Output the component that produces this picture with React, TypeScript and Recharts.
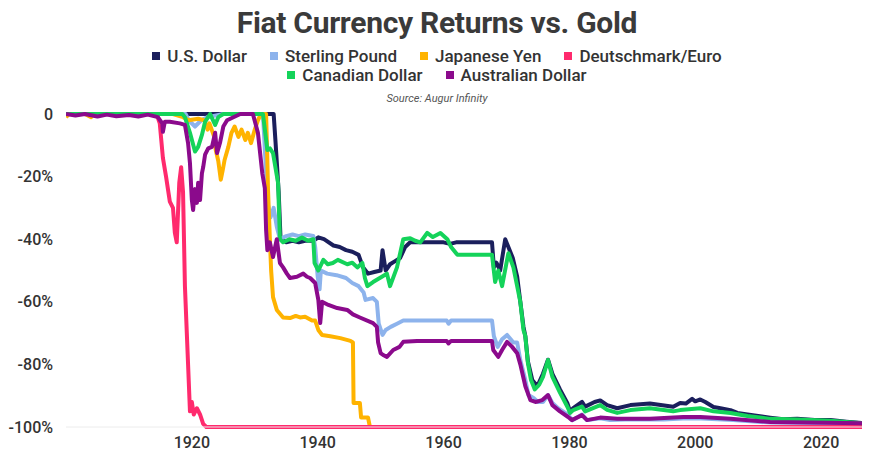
import { LineChart, Line, XAxis, YAxis } from "recharts";

type Pt = [number, number];

// [year, % change vs gold]
const usDollar: Pt[] = [
  [1900, 0], [1933.0, 0], [1933.3, -9], [1933.8, -25], [1934.1, -40], [1935, -41], [1936, -40.5],
  [1937, -41], [1938, -40.5], [1939.3, -40.5], [1940.1, -39.4], [1941, -40], [1942.5, -42],
  [1943.5, -42.5], [1944.5, -43.5], [1945.5, -44], [1946.5, -45], [1947.2, -49], [1948, -51],
  [1949, -50.5], [1950, -50], [1950.3, -43.5], [1950.8, -50], [1951.5, -48], [1952.3, -47],
  [1953.1, -46], [1953.9, -42.5], [1954.7, -41], [1960, -41], [1961, -41.5], [1962, -41],
  [1967.7, -41], [1968.0, -49], [1968.4, -47.5], [1969.0, -50], [1969.8, -40], [1970.3, -42.5],
  [1971.0, -46], [1971.7, -52], [1972.2, -60], [1972.7, -68], [1973.0, -71], [1973.4, -79],
  [1974.1, -85], [1974.9, -87], [1975.8, -83], [1976.6, -78.5], [1977.3, -83], [1978.5, -88],
  [1979.7, -92.5], [1980.1, -95], [1980.6, -94], [1982, -92], [1982.5, -93.5], [1984, -92],
  [1984.9, -91.5], [1986, -93], [1987.6, -94], [1989.7, -93], [1992.8, -92.5], [1996.5, -93.5],
  [1997.6, -92.3], [1998.5, -92.5], [1999.5, -91], [2000, -91.8], [2000.8, -91.2], [2001.6, -92],
  [2002.9, -93.6], [2004, -94], [2005.6, -94.6], [2006.7, -95.5], [2008.3, -96], [2010, -96.5],
  [2011.9, -97], [2014, -97.5], [2016.2, -97.4], [2019, -97.8], [2021.5, -97.8], [2024, -98.3],
  [2026.5, -98.7],
];

const sterlingPound: Pt[] = [
  [1900, 0], [1919, 0], [1919.5, -2], [1920.5, -4], [1921.5, -2], [1922.5, -1], [1925, 0],
  [1931.3, 0], [1931.7, -15], [1932, -28], [1932.5, -33], [1933, -30], [1933.5, -36], [1934, -40],
  [1935, -39], [1936, -38.5], [1937, -39], [1938, -38.5], [1939.3, -39], [1939.6, -42.5],
  [1940.0, -52], [1940.3, -56], [1940.5, -50], [1941.5, -51], [1943, -51.5], [1944.5, -52.4],
  [1945.5, -54], [1946.5, -55], [1947.3, -57], [1947.6, -59.4], [1948.8, -58.8], [1949.4, -60],
  [1949.7, -67], [1950.3, -70.6], [1950.8, -69], [1951.6, -68], [1952.6, -67], [1953.6, -66],
  [1956, -66], [1960.5, -66], [1960.8, -67], [1961.2, -66], [1967.7, -66], [1968.0, -71],
  [1968.6, -74.4], [1969.3, -72], [1970.1, -70.6], [1971.1, -73], [1971.7, -73], [1972.2, -78.6],
  [1973.0, -85], [1973.5, -89.8], [1974.3, -90.7], [1975.0, -92], [1975.8, -92], [1976.6, -89.8],
  [1977.3, -92.3], [1978.2, -94], [1979.7, -96], [1980.5, -97.8], [1981.2, -97], [1982, -96],
  [1982.8, -97.8], [1984.9, -97.2], [1986.5, -97.8], [1990, -97.5], [1995, -97.6], [1998, -97.3],
  [2001, -97.3], [2006, -97.8], [2012, -98.6], [2026.5, -98.9],
];

const japaneseYen: Pt[] = [
  [1900, -1], [1900.5, 0], [1903, 0], [1904, -1], [1904.5, 0], [1917, 0], [1918.6, -1],
  [1919.5, -2], [1921, -1.5], [1922, -2], [1922.5, -5], [1922.8, -3], [1923.5, -7],
  [1923.8, -11.5], [1924.2, -15], [1924.6, -21], [1924.9, -18], [1925.2, -14.7], [1925.8, -10.5],
  [1926.3, -6], [1926.8, -4], [1927.4, -7.3], [1927.9, -5], [1928.5, -8.3], [1928.9, -6],
  [1929.4, -9.3], [1930, -5], [1930.5, -2], [1931, 0], [1931.8, 0], [1932.0, -14.7],
  [1932.1, -24], [1932.4, -40], [1932.6, -50], [1932.9, -58.5], [1933.5, -62.6], [1934.5, -65],
  [1935.6, -65.2], [1936.5, -64.5], [1937.2, -65], [1938, -64.8], [1939.1, -66], [1939.6, -66],
  [1940.1, -69], [1940.7, -70.6], [1942, -71], [1943.6, -71.6], [1945.2, -72.5], [1945.6, -73],
  [1945.7, -92.3], [1946.7, -92.3], [1946.9, -97], [1948.0, -97], [1948.3, -100], [2026.5, -100],
];

const deutschmarkEuro: Pt[] = [
  [1900, 0], [1914.4, 0], [1914.9, -3], [1915.4, -14], [1915.9, -20], [1916.2, -24],
  [1916.5, -28], [1917.0, -30], [1917.3, -38], [1917.6, -41], [1918.0, -22], [1918.3, -17],
  [1918.6, -25], [1918.9, -55], [1919.4, -80], [1919.7, -95], [1920.0, -92], [1920.3, -96],
  [1920.8, -94], [1921.3, -96], [1921.8, -99], [1922.3, -100], [2026.5, -100],
];

const canadianDollar: Pt[] = [
  [1900, 0], [1918.5, 0], [1918.9, -1], [1919.7, -6], [1920.5, -12], [1921.0, -10.5],
  [1921.6, -6.7], [1922.1, -2.5], [1922.9, 0], [1923.7, -3.5], [1924.2, -1], [1925, 0],
  [1931.3, 0], [1932, -11.5], [1932.4, -11], [1932.9, -12.5], [1933.7, -22], [1934, -40],
  [1934.5, -41], [1935.5, -40], [1936.5, -40.5], [1937.5, -39.5], [1938.5, -40.5], [1939.3, -40],
  [1939.5, -47.6], [1940.1, -50], [1940.9, -46.6], [1941.6, -48], [1942.4, -47.6], [1943.2, -46.6],
  [1944.7, -48], [1945.5, -47.5], [1946.3, -49], [1947.1, -47.6], [1947.5, -52.4], [1947.9, -55],
  [1948.8, -53.7], [1950.2, -52], [1951, -51], [1951.5, -55], [1952.6, -49], [1953.6, -40],
  [1954.7, -39.7], [1955.5, -40.5], [1956.3, -41], [1957.4, -38], [1958.3, -39.3], [1959.5, -38],
  [1960.6, -40], [1961.2, -42.5], [1962.2, -45], [1967.7, -45], [1968.2, -53.7], [1968.7, -50],
  [1969.3, -55], [1970.3, -44.5], [1971.1, -49], [1972.2, -60], [1972.7, -69], [1973.0, -71],
  [1973.4, -79.5], [1973.9, -85], [1974.5, -88], [1975.2, -86.5], [1975.8, -84], [1976.6, -78.6],
  [1977.3, -84], [1978.5, -89], [1979.7, -93.6], [1980.1, -95.5], [1980.6, -94.6], [1982, -93.5],
  [1982.5, -95], [1984.9, -93], [1986, -94.5], [1987.6, -95.5], [1989.7, -94.6], [1992.8, -94],
  [1996.5, -95], [1997.6, -94.6], [2000.8, -94], [2002.9, -95], [2005.6, -95.5], [2008.3, -96.5],
  [2011.9, -97.4], [2016.2, -97.6], [2021.5, -98], [2026.5, -98.8],
];

const australianDollar: Pt[] = [
  [1900, 0], [1901.5, -0.5], [1903, 0], [1905, -0.8], [1906.5, -0.2], [1908, -0.7], [1910, -0.3],
  [1911.5, -0.8], [1913, -0.2], [1914.6, -1], [1915.3, -3], [1915.4, -5.7], [1915.7, -2.5],
  [1916.5, -2.5], [1918.1, -3], [1918.9, -3.5], [1919.4, -9.3], [1919.7, -15.7], [1920.0, -27.5],
  [1920.2, -30.7], [1920.5, -24], [1920.8, -28.4], [1921.0, -22], [1921.3, -27.5], [1921.6, -19],
  [1921.8, -17], [1922.1, -13], [1922.6, -11], [1923.2, -10.5], [1923.7, -6], [1924.0, -12.5],
  [1924.5, -9], [1925.0, -4], [1925.6, -2], [1927.7, 0], [1929.7, 0], [1930.5, -6], [1931.2, -19],
  [1931.6, -23.7], [1931.8, -37], [1932.0, -43.5], [1932.4, -41], [1932.9, -45.7], [1933.5, -40],
  [1934.0, -47.6], [1934.5, -49], [1935.1, -51], [1935.6, -52.4], [1936.7, -52], [1937.7, -51],
  [1938.3, -52], [1938.8, -52.4], [1939.6, -54], [1940.1, -59.4], [1940.4, -66.8], [1940.7, -60],
  [1941.7, -61], [1943.1, -62], [1944.7, -62.6], [1945.6, -64], [1946.7, -65], [1948.8, -66.8],
  [1949.4, -68], [1949.6, -73], [1950.0, -76.4], [1950.4, -77], [1951.0, -77.6], [1952.0, -75.4],
  [1953.0, -74.4], [1953.6, -72.8], [1955.8, -72.5], [1960.5, -72.5], [1960.8, -73.3],
  [1961.2, -72.5], [1967.7, -72.5], [1967.9, -75.4], [1968.7, -77.6], [1969.3, -75.4],
  [1970.1, -72.8], [1970.9, -74.4], [1971.7, -76.4], [1972.2, -80], [1973.0, -87], [1973.8, -91.4],
  [1974.6, -92], [1975.7, -91.4], [1976.6, -89.8], [1977.3, -93], [1978.5, -95], [1979.8, -96.8],
  [1980.4, -97.8], [1981.2, -97], [1982.0, -96.2], [1982.8, -97.8], [1984.9, -97], [1987.6, -97.4],
  [1992.8, -97.4], [1998.1, -96.8], [2000.8, -96.8], [2005.6, -97.4], [2011.9, -98.4],
  [2026.5, -98.8],
];

const xTicks = [1920, 1940, 1960, 1980, 2000, 2020];
const yTicks = [0, -20, -40, -60, -80, -100];

const series = [
  { name: "U.S. Dollar", color: "#1b1f5c", points: usDollar },
  { name: "Sterling Pound", color: "#8db3ec", points: sterlingPound },
  { name: "Japanese Yen", color: "#ffb300", points: japaneseYen },
  { name: "Deutschmark/Euro", color: "#ff2a6d", points: deutschmarkEuro },
  { name: "Canadian Dollar", color: "#14d35a", points: canadianDollar },
  { name: "Australian Dollar", color: "#8b0a8c", points: australianDollar },
];

const toRows = (pts: Pt[]) => pts.map(([year, value]) => ({ year, value }));

function LegendRow({ items, top }: { items: typeof series; top: number }) {
  return (
    <div
      style={{
        position: "absolute",
        top,
        left: 0,
        width: 874,
        display: "flex",
        justifyContent: "center",
        gap: 23,
        fontSize: 17,
        lineHeight: "20px",
        fontWeight: 500,
        color: "#333",
      }}
    >
      {items.map((s) => (
        <div key={s.name} style={{ display: "flex", alignItems: "center" }}>
          <span style={{ width: 8, height: 8, background: s.color, marginRight: 7, display: "inline-block" }} />
          {s.name}
        </div>
      ))}
    </div>
  );
}

export default function App() {
  return (
    <div
      style={{
        position: "absolute",
        top: 0,
        left: 0,
        width: 871,
        height: 464,
        background: "#fff",
        fontFamily: "Roboto, sans-serif",
        overflow: "hidden",
      }}
    >
      <LineChart width={871} height={464} margin={{ top: 114, right: 9, bottom: 7, left: 0 }}>
        <XAxis
          type="number"
          dataKey="year"
          domain={[1900, 2026.5]}
          ticks={xTicks}
          height={30}
          allowDataOverflow
          axisLine={{ stroke: "#ececec" }}
          tickLine={false}
          tickMargin={4}
          tick={{ fontSize: 16, fill: "#333", fontWeight: 500 }}
        />
        <YAxis
          type="number"
          domain={[-100, 0]}
          ticks={yTicks}
          width={66}
          axisLine={false}
          tickLine={false}
          tickMargin={7}
          tick={{ fontSize: 16, fill: "#333", fontWeight: 500 }}
          tickFormatter={(v: number) => (v === 0 ? "0" : `${v}%`)}
        />
        {series.map((s) => (
          <Line
            key={s.name}
            data={toRows(s.points)}
            dataKey="value"
            name={s.name}
            type="linear"
            stroke={s.color}
            strokeWidth={4}
            strokeLinejoin="round"
            dot={false}
            activeDot={false}
            isAnimationActive={false}
          />
        ))}
      </LineChart>

      <div
        style={{
          position: "absolute",
          top: 8,
          left: 0,
          width: 874,
          textAlign: "center",
          fontSize: 30,
          lineHeight: "30px",
          fontWeight: 700,
          color: "#3a3a3a",
          letterSpacing: -0.3,
        }}
      >
        Fiat Currency Returns vs. Gold
      </div>
      <LegendRow items={series.slice(0, 4)} top={46} />
      <LegendRow items={series.slice(4)} top={65} />
      <div
        style={{
          position: "absolute",
          top: 92,
          left: 0,
          width: 874,
          textAlign: "center",
          fontSize: 11,
          lineHeight: "14px",
          fontStyle: "italic",
          color: "#555",
        }}
      >
        Source: Augur Infinity
      </div>
    </div>
  );
}
